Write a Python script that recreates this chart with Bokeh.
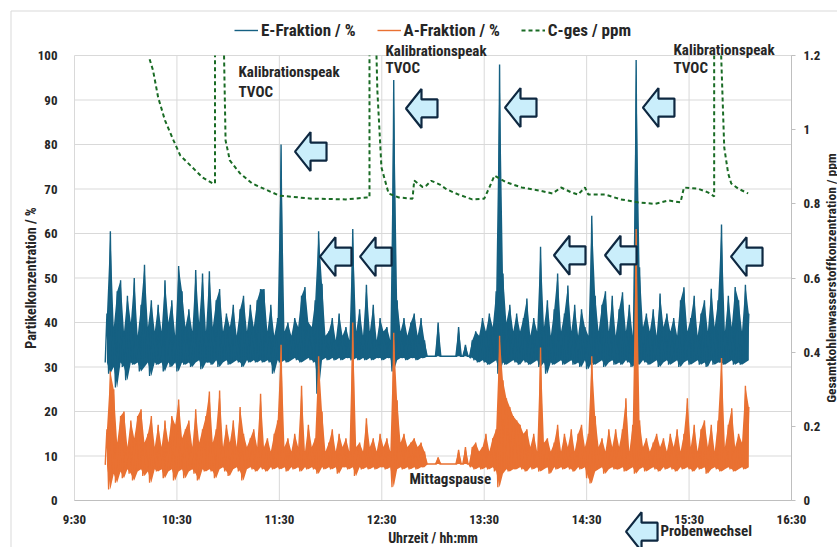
import math
from bokeh.plotting import figure
from bokeh.models import (Range1d, LinearAxis, FixedTicker, Legend, LegendItem,
                          Label, PolyAnnotation, BoxAnnotation, NumeralTickFormatter)
from bokeh.embed import file_html
from bokeh.resources import INLINE

NaN = float("nan")

# ---------------- data ----------------
series_start = "09:48"      # first sample of the particle series
bin_minutes = 2             # each bin holds one low and one high reading

E_hi = [42, 60.5, 39, 47, 49.5, 38, 46, 40, 50, 37, 44, 53, 39, 45, 38,
        44, 38, 49.5, 40, 45, 37, 52.7, 47, 39, 43, 38, 51.8, 40, 51, 38,
        51.5, 39, 45, 47.5, 38, 42, 39, 44, 37, 43, 46, 38, 44, 39, 45,
        47.5, 47.5, 38, 44, 37, 41, 80, 38, 40, 37, 41, 39, 46, 48, 40,
        39, 45, 60.5, 48.7, 37, 38, 41, 36, 42, 37, 39, 36, 61, 38, 43,
        37, 48.5, 38, 44, 36, 41, 38, 39, 36, 94.5, 45, 38, 41, 37, 40,
        42, 37, 41, 36, 32.4, 32.4, 32.4, 40, 32.4, 32.4, 32.4, 32.4, 32.4, 39, 32.4,
        35, 32.4, 36, 38, 37, 41, 38, 42, 39, 47, 98, 51, 40, 44, 38,
        42, 38, 41, 45.4, 37, 41, 38, 57, 39, 45, 37, 43, 51, 38, 42,
        48.3, 38, 44, 37, 43, 39, 37, 64, 46, 38, 44, 47, 38, 46, 37,
        43, 46.8, 38, 44, 37, 99, 52.4, 39, 42, 38, 43, 37, 46.5, 39, 42,
        38, 41, 37, 45, 47.9, 38, 41, 46, 37, 42, 45, 38, 47.6, 39, 45,
        62, 38, 46, 39, 48, 45, 38, 48.5, 42]

E_lo = [31, 28.5, 30, 25.4, 31, 30, 27, 31, 30.5, 31, 29, 30, 31, 28, 31,
        30.5, 31, 29, 31, 30, 31, 29, 31, 30.5, 31, 30, 31, 31.5, 29.5, 31,
        31, 30.5, 31.5, 30, 31, 31.5, 30.5, 31, 31.5, 31, 30, 31.5, 31, 31.5, 31,
        31.5, 31, 31.5, 31, 28.5, 31.5, 31, 31.5, 31, 31.5, 32, 31.5, 31, 31.5, 32,
        31.5, 31, 24, 31.5, 32, 31.5, 32, 31.5, 32, 31.5, 32, 32, 31.5, 32, 31.5,
        32, 31.5, 32, 31.5, 32, 32, 31.5, 32, 32, 29, 31.5, 32, 32, 31.5, 32,
        32, 31.5, 32, 32, 32.4, 32.4, 32.4, 32.4, 32.4, 32.4, 32.4, 32.4, 32.4, 32.4, 32.4,
        32.4, 32.4, 32, 31.5, 31, 31.5, 31, 30.5, 31, 31.5, 28.5, 31, 30.5, 31, 31.5,
        31, 30.5, 31.5, 31, 30.5, 31, 31.5, 30, 31, 28.5, 31, 30.5, 31, 31.5, 30.5,
        31, 31.5, 30.5, 31, 30, 31.5, 29.5, 31, 30.5, 31, 31.5, 30, 31, 31.5, 30.5,
        31, 30.5, 31.5, 31, 30, 31, 30.5, 31.5, 31, 30.5, 31, 31.5, 30, 31, 31.5,
        30.5, 31, 31.5, 30, 31, 31.5, 30.5, 31, 31.5, 30.5, 31, 30, 31.5, 30.5, 31,
        31, 30.5, 31, 31.5, 30.5, 31, 30.5, 31, 31.5]

A_hi = [16, 29, 25, 13, 19, 20, 12, 18, 14, 19, 20.5, 13, 15, 19, 12,
        17, 12, 18, 13, 19, 17, 22.7, 14, 16, 18, 12, 20.5, 13, 16, 19,
        24.5, 13, 16, 24.7, 12, 17, 13, 18, 12, 21, 15, 12, 14, 16, 12,
        24, 12, 14, 11, 15, 18, 35, 12, 14, 11, 15, 12, 25.8, 11, 17,
        12, 14, 32.4, 20, 11, 13, 16, 11, 15, 12, 14, 11, 40, 12, 13,
        11, 18.5, 12, 14, 11, 15, 12, 14, 11, 37.7, 22.5, 13, 15, 12, 13,
        14, 12, 13, 11, 8.2, 8.2, 8.2, 9.7, 8.2, 8.2, 8.2, 8.2, 8.2, 11.4, 8.2,
        12, 8.2, 12, 13, 11, 12, 15, 11, 14, 16, 37, 27, 23, 21, 19,
        18, 17, 15, 16, 12, 15, 11, 34.4, 13, 14, 11, 13, 17, 11, 15,
        12, 16, 11, 15, 17, 12, 15, 32.4, 19, 12, 14, 11, 16, 12, 16,
        12, 16, 23, 11, 17, 61, 18, 12, 14, 11, 13, 15, 12, 14, 11,
        15, 12, 16, 11, 15, 23, 12, 17, 11, 16, 18, 12, 17, 11, 18,
        32, 12, 17, 20.7, 12, 15, 13, 25.8, 21]

A_lo = [8, 2.5, 6, 4, 6.5, 5, 7, 6, 4.5, 6.5, 7, 5.5, 6.5, 4, 7,
        6.5, 7, 5, 6.5, 7, 4.5, 6.5, 7, 5, 6.5, 7, 6, 4.5, 7, 6.5,
        7, 6.5, 5, 7, 7.5, 6.5, 5.5, 7, 7.5, 6.5, 4.5, 7, 7.5, 7, 6.5,
        7.5, 7, 6.5, 7.5, 7, 7.5, 7, 7.5, 6.5, 7.5, 7, 7.5, 6.5, 7.5, 7,
        7.5, 7, 6, 7.5, 7, 7.5, 7, 7.5, 6, 7.5, 7.5, 7, 7.5, 5.5, 7.5,
        7, 7.5, 7, 7.5, 7, 7.5, 7.5, 7, 7.5, 3, 7, 7.5, 7, 7.5, 7,
        7.5, 7, 7.5, 7.5, 8.2, 8.2, 8.2, 8.2, 8.2, 8.2, 8.2, 8.2, 8.2, 8.2, 8.2,
        8.2, 8.2, 7.5, 7, 7.5, 7, 7.5, 7, 7.5, 6.5, 3, 6, 7, 6.5, 7,
        7, 7.5, 7, 6.5, 7.5, 7, 7.5, 6.5, 7, 7.5, 6, 7.5, 7, 7.5, 7,
        7.5, 7, 6.5, 7.5, 7, 7.5, 5, 3.8, 6.5, 7, 7.5, 6, 7, 7.5, 7,
        7, 7.5, 6.5, 7, 7.5, 6, 7, 7.5, 6.5, 7, 7.5, 7, 6.5, 7.5, 7,
        7.5, 7, 6.5, 7.5, 7, 7.5, 7, 6.5, 7.5, 7, 7.5, 6, 7, 7.5, 7,
        6.5, 7, 7.5, 7, 6.5, 7, 7.5, 7, 7.5]

# C-ges: 1.2 = leaves the top of the scale, NaN = off scale (calibration peak)
cges_time = ["10:14", "10:16", "10:19", "10:23", "10:28", "10:32", "10:38", "10:45",
             "10:51", "10:52.3", "10:52.3", "10:55", "10:57.6", "10:58.5", "11:01", "11:07",
             "11:14", "11:30", "11:49", "12:09", "12:21", "12:22.8", "12:22.8", "12:25",
             "12:26.9", "12:27.4", "12:29.8", "12:34", "12:40", "12:48", "12:49", "12:54",
             "12:56", "12:59", "13:04", "13:08", "13:15", "13:23", "13:30", "13:33",
             "13:36", "13:43", "13:52", "14:02", "14:10", "14:15", "14:21", "14:25",
             "14:29", "14:31", "14:41", "14:50", "15:00", "15:10", "15:18", "15:25",
             "15:27", "15:35", "15:41", "15:44.7", "15:44.7", "15:47", "15:48.8", "15:50.6",
             "15:52.9", "15:54.7", "15:58.8", "16:04.6"]
cges_ppm = [1.19, 1.16, 1.087, 1.025, 0.971, 0.930, 0.903, 0.871,
            0.855, 0.855, 1.2, NaN, 1.2, 0.971, 0.917, 0.882,
            0.855, 0.822, 0.814, 0.812, 0.817, 0.817, 1.2, NaN,
            1.2, 1.106, 0.898, 0.828, 0.817, 0.814, 0.863, 0.845,
            0.849, 0.862, 0.852, 0.839, 0.825, 0.812, 0.814, 0.844,
            0.876, 0.858, 0.844, 0.836, 0.828, 0.844, 0.831, 0.825,
            0.844, 0.825, 0.825, 0.812, 0.804, 0.800, 0.809, 0.804,
            0.844, 0.841, 0.831, 0.820, 1.2, NaN, 1.2, 0.952,
            0.882, 0.855, 0.841, 0.828]

x_tick_labels = ["9:30", "10:30", "11:30", "12:30", "13:30", "14:30", "15:30", "16:30"]
y_left_ticks = [0, 10, 20, 30, 40, 50, 60, 70, 80, 90, 100]
y_right_ticks = [0, 0.2, 0.4, 0.6, 0.8, 1.0, 1.2]

# annotation anchors (time, left-axis value)
arrow_tips = [("11:38.3", 78.4), ("12:43.3", 88.1), ("13:41.3", 88.3), ("15:02.1", 88.3),
              ("11:52.9", 54.8), ("12:16.4", 54.8), ("14:10.0", 55.1), ("14:39.9", 55.1),
              ("15:53.7", 54.8), ("14:52.2", -7.0)]
calib_labels = [("11:06.1", 96.2, 91.7), ("12:32.2", 101.1, 97.1), ("15:20.9", 101.3, 97.1)]

# ---------------- helpers ----------------
def hours(s):
    h, m = s.split(":")
    return int(h) + float(m) / 60.0

t0 = hours(series_start)
n = len(E_hi)
x_zig, e_zig, a_zig = [], [], []
x_mid = []
for i in range(n):
    t = t0 + i * bin_minutes / 60.0
    x_zig += [t, t + bin_minutes / 120.0]
    e_zig += [E_lo[i], E_hi[i]]
    a_zig += [A_lo[i], A_hi[i]]
    x_mid.append(t + bin_minutes / 120.0)

FONT = "'Liberation Sans Narrow', 'Roboto Condensed', Roboto, sans-serif"
TXT = "#262626"
GRID = "#d9d9d9"
BLUE, ORANGE, GREEN = "#156082", "#E97132", "#196B24"

W, H = 837, 547
X0_PX, TOP_PX = 74, 55                 # plot-area left / top in px
px_h = 717 / 7.0                       # px per hour
px_v = 445 / 100.0                     # px per percent
x_lo = 9.5 - X0_PX / px_h
x_hi = 9.5 + (W - X0_PX) / px_h
y_top = 100 + TOP_PX / px_v
y_bot = -(H - TOP_PX - 445) / px_v
ppm_per_pct = 1.2 / 100.0

def xpx(px):   # page px -> hours
    return x_lo + px / px_h

def ypx(py):   # page px -> percent
    return y_top - py / px_v

p = figure(width=W, height=H, output_backend="svg", toolbar_location=None,
           x_range=Range1d(x_lo, x_hi), y_range=Range1d(y_bot, y_top),
           min_border_left=0, min_border_right=0, min_border_top=0, min_border_bottom=0)
p.outline_line_color = None
p.extra_y_ranges = {"ppm": Range1d(y_bot * ppm_per_pct, y_top * ppm_per_pct)}
p.xgrid.grid_line_color = None
p.ygrid.grid_line_color = None

xt = [hours(s) for s in x_tick_labels]

# gridlines limited to the plot area
p.segment(x0=xt, y0=[0] * len(xt), x1=xt, y1=[100] * len(xt),
          line_color=GRID, line_width=1, level="underlay")
p.segment(x0=[9.5] * len(y_left_ticks), y0=y_left_ticks, x1=[16.5] * len(y_left_ticks),
          y1=y_left_ticks, line_color=GRID, line_width=1, level="underlay")

# axes (drawn at fixed locations inside the full-canvas frame)
p.xaxis.ticker = FixedTicker(ticks=xt)
p.xaxis.major_label_overrides = {v: s for v, s in zip(xt, x_tick_labels)}
p.xaxis.fixed_location = 0
p.xaxis.bounds = (9.5, 16.5)
p.yaxis.ticker = FixedTicker(ticks=y_left_ticks)
p.yaxis.bounds = (0, 100)
p.yaxis.fixed_location = 9.5
for ax in (p.xaxis[0], p.yaxis[0]):
    ax.major_tick_line_color = None
    ax.minor_tick_line_color = None
    ax.major_label_text_font = FONT
    ax.major_label_text_font_style = "bold"
    ax.major_label_text_font_size = "13px"
    ax.major_label_text_color = TXT
    ax.axis_label_text_font = FONT
    ax.axis_label_text_font_style = "bold"
    ax.axis_label_text_font_size = "14px"
    ax.axis_label_text_color = TXT
p.xaxis.axis_line_color = "#bfbfbf"
p.yaxis.axis_line_color = None
p.xaxis.axis_label = "Uhrzeit / hh:mm"
p.xaxis.major_label_standoff = 5
p.xaxis.axis_label_standoff = 0
p.yaxis.axis_label = "Partikelkonzentration / %"
p.yaxis.major_label_standoff = 11
p.yaxis.axis_label_standoff = -4

ra = LinearAxis(y_range_name="ppm", ticker=FixedTicker(ticks=y_right_ticks),
                formatter=NumeralTickFormatter(format="0.[0]"), bounds=(0, 1.2),
                fixed_location=16.5)
ra.axis_line_color = "#bfbfbf"
ra.major_tick_line_color = "#bfbfbf"
ra.major_tick_in = 0
ra.major_tick_out = 4
ra.minor_tick_line_color = None
ra.major_label_standoff = 8
ra.major_label_text_font = FONT
ra.major_label_text_font_style = "bold"
ra.major_label_text_font_size = "13px"
ra.major_label_text_color = TXT
p.add_layout(ra, "right")

# light chart border (top / left edges visible)
p.add_layout(BoxAnnotation(left=xpx(10.5), right=xpx(W + 20), top=ypx(10.5), bottom=ypx(H + 20),
                           fill_alpha=0, line_color=GRID, line_width=1, line_alpha=1,
                           level="underlay"))

# series: dense band (low..high readings) plus the readings as a line
p.varea(x=x_mid, y1=E_lo, y2=E_hi, fill_color=BLUE, fill_alpha=1)
r_e = p.line(x_zig, e_zig, line_color=BLUE, line_width=1.4)
p.varea(x=x_mid, y1=A_lo, y2=A_hi, fill_color=ORANGE, fill_alpha=1)
r_a = p.line(x_zig, a_zig, line_color=ORANGE, line_width=1.4)
r_c = p.line([hours(s) for s in cges_time], cges_ppm, y_range_name="ppm",
             line_color=GREEN, line_width=2, line_dash="4 3")

legend = Legend(items=[LegendItem(label="E-Fraktion / %", renderers=[r_e]),
                       LegendItem(label="A-Fraktion / %", renderers=[r_a]),
                       LegendItem(label="C-ges / ppm", renderers=[r_c])],
                orientation="horizontal", location=(234, H - 40),
                label_text_font=FONT, label_text_font_style="bold",
                label_text_font_size="17px", label_text_color=TXT,
                glyph_width=24, glyph_height=16, label_standoff=3, spacing=21,
                padding=2, margin=0, border_line_color=None,
                background_fill_alpha=0)
p.add_layout(legend, "center")

# arrows (block arrows pointing left)
shape = [(1.5, 0), (17, 19.5), (17, 9), (33, 9), (33, -9), (17, -9), (17, -19.5)]
for ts, v in arrow_tips:
    tx = hours(ts)
    xs = [tx + dx / px_h for dx, dy in shape]
    ys = [v + dy / px_v for dx, dy in shape]
    p.add_layout(PolyAnnotation(xs=xs, ys=ys, fill_color="#CAEEFB", fill_alpha=1,
                                line_color="#0E2841", line_alpha=1, line_width=2.2))

def label(x, y, text, **kw):
    opts = dict(text_font=FONT, text_font_style="bold", text_font_size="15px",
                text_color=TXT, text_align="left", text_baseline="middle")
    opts.update(kw)
    p.add_layout(Label(x=x, y=y, text=text, **opts))

for ts, y1, y2 in calib_labels:
    label(hours(ts), y1, "Kalibrationspeak")
    label(hours(ts), y2, "TVOC")
label(hours("12:46.2"), 4.9, "Mittagspause")
label(hours("15:13.3"), -6.8, "Probenwechsel")
label(xpx(830), 50, "Gesamtkohlenwasserstoffkonzentration / ppm",
      angle=math.pi / 2, text_align="center", text_font_size="13.5px")

open("out.html", "w").write(file_html(p, INLINE))
